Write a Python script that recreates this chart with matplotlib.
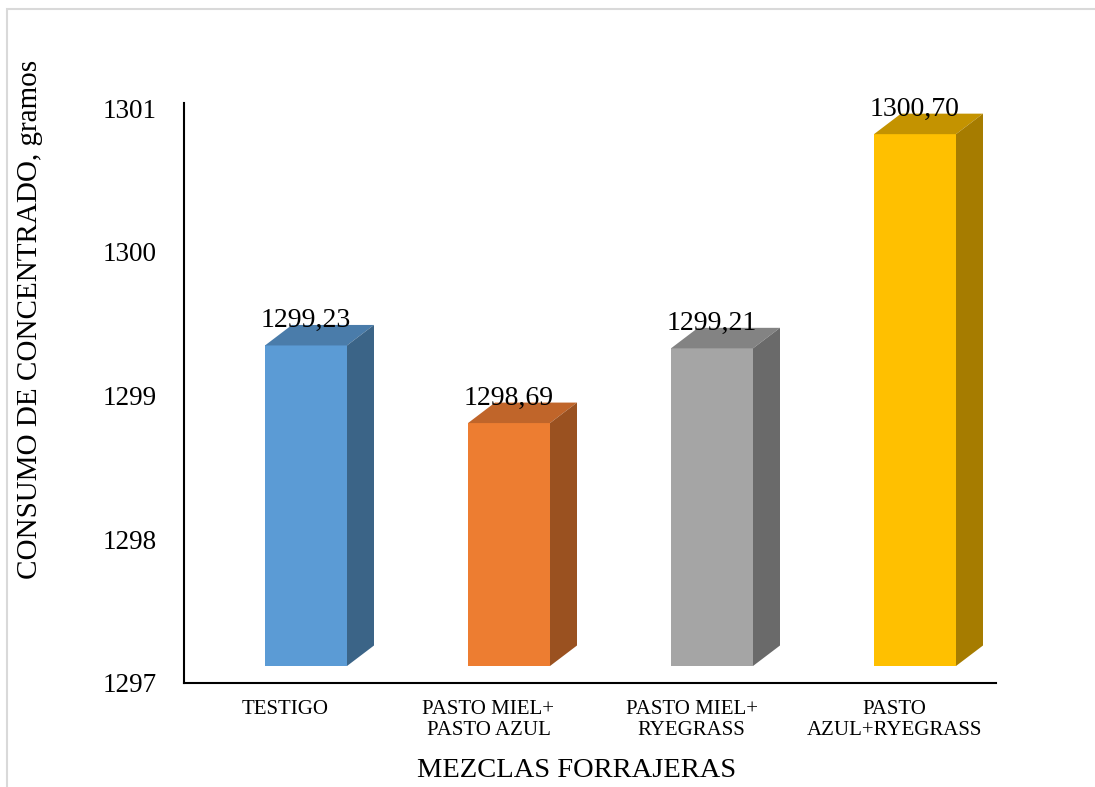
import matplotlib.pyplot as plt
from matplotlib.patches import Polygon, Rectangle

plt.rcParams['font.family'] = ['Liberation Serif', 'DejaVu Serif']

categorias = ['TESTIGO', 'PASTO MIEL+\nPASTO AZUL', 'PASTO MIEL+\nRYEGRASS', 'PASTO\nAZUL+RYEGRASS']
consumo = [1299.23, 1298.69, 1299.21, 1300.70]
etiquetas = [f'{v:.2f}'.replace('.', ',') for v in consumo]
yticks = [1297, 1298, 1299, 1300, 1301]

color_frente = ['#5B9BD5', '#ED7D31', '#A5A5A5', '#FFC000']
color_arriba = ['#4A7CAA', '#C0652A', '#838383', '#C49300']
color_lado = ['#3B6487', '#9A5120', '#6A6A6A', '#A67C00']

W, H = 1095, 787
fig = plt.figure(figsize=(W / 100, H / 100), dpi=100)

# marco gris claro del grafico
fig.patches.append(Rectangle((7 / W, -0.1), 2, 1.1 - 9 / H, transform=fig.transFigure,
                             fill=False, edgecolor='#D9D9D9', lw=1.5))

ax = fig.add_axes([184 / W, 1 - 683 / H, 812 / W, 580 / H])
ax.set_xlim(0, 4)
ax.set_ylim(1297, 1301.035)

# pixeles por unidad de datos, para el efecto 3D
p0 = ax.transData.transform((0, 1297))
p1 = ax.transData.transform((1, 1298))
ppx, ppy = p1[0] - p0[0], p1[1] - p0[1]

ox, oy = 20.5 / ppx, 17 / ppy      # desplazamiento de la cara frontal
dx, dy = 27 / ppx, 20.5 / ppy      # profundidad
ancho = 82 / ppx

xs = [i + 0.5 + ox for i in range(len(consumo))]
ax.bar(xs, [v - 1297 for v in consumo], width=ancho, bottom=1297 + oy,
       color=color_frente, zorder=2)

for i, v in enumerate(consumo):
    x0 = xs[i] - ancho / 2
    x1 = xs[i] + ancho / 2
    y0 = 1297 + oy
    y1 = v + oy
    ax.add_patch(Polygon([(x0, y1), (x1, y1), (x1 + dx, y1 + dy), (x0 + dx, y1 + dy)],
                         closed=True, facecolor=color_arriba[i], edgecolor='none', zorder=3))
    ax.add_patch(Polygon([(x1, y0), (x1 + dx, y0 + dy), (x1 + dx, y1 + dy), (x1, y1)],
                         closed=True, facecolor=color_lado[i], edgecolor='none', zorder=3))
    ax.annotate(etiquetas[i], xy=(xs[i], y1 + dy), xytext=(0, -2), textcoords='offset pixels',
                ha='center', va='baseline', fontsize=20, zorder=4, annotation_clip=False)

ax.set_yticks(yticks)
ax.set_yticklabels([str(t) for t in yticks])
ax.set_xticks([i + 0.5 for i in range(len(categorias))])
ax.set_xticklabels(categorias)
for lab in ax.get_xticklabels():
    lab.set_linespacing(1.2)
ax.tick_params(axis='y', length=0, pad=19.5, labelsize=19.5)
ax.tick_params(axis='x', length=0, pad=12, labelsize=15)

for s in ['top', 'right']:
    ax.spines[s].set_visible(False)
for s in ['left', 'bottom']:
    ax.spines[s].set_linewidth(1.5)
    ax.spines[s].set_color('black')

fig.text(577 / W, 1 - 777 / H, 'MEZCLAS FORRAJERAS', ha='center', va='baseline', fontsize=20.5)
fig.text(30 / W, 1 - 319 / H, 'CONSUMO DE CONCENTRADO, gramos', ha='center', va='center',
         rotation=90, fontsize=21)

fig.savefig('out.png', dpi=100)
